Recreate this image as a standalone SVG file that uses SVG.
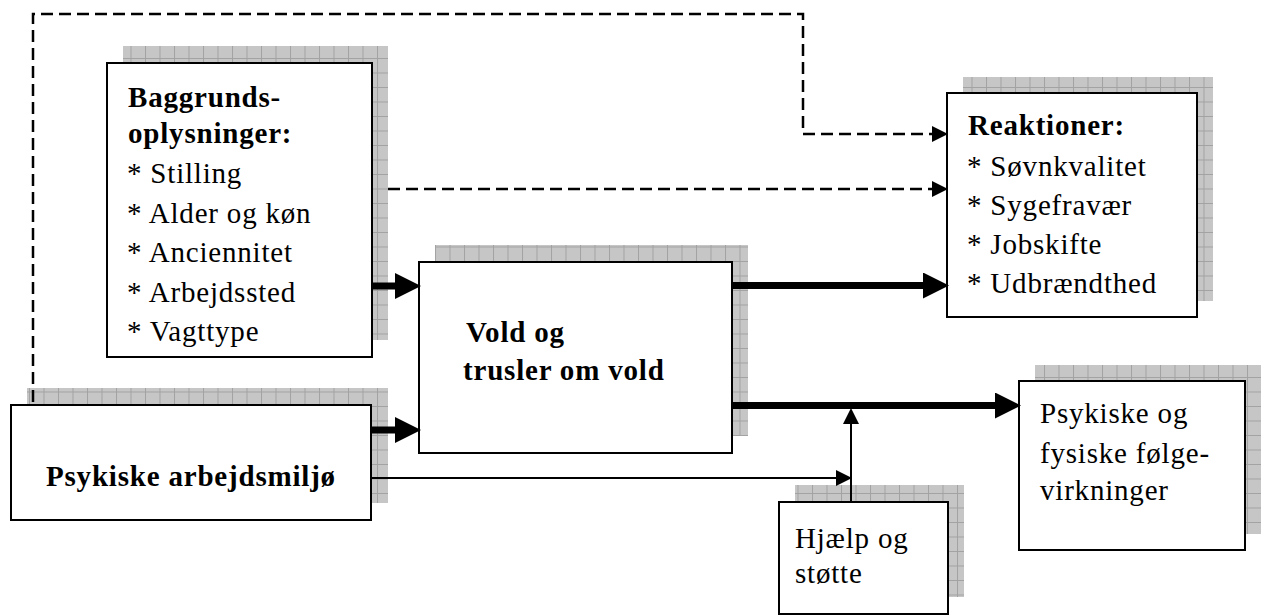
<svg xmlns="http://www.w3.org/2000/svg" width="1275" height="616" viewBox="0 0 1275 616">
  <defs>
    <!-- gray grid texture used for the box shadows -->
    <pattern id="grid" patternUnits="userSpaceOnUse" width="14.5" height="14.5">
      <rect width="14.5" height="14.5" fill="#c6c6c6"/>
      <path d="M0,0.5 H14.5 M0.5,0 V14.5" stroke="#a2a2a2" stroke-width="1" fill="none"/>
    </pattern>
    <marker id="headThick" markerUnits="userSpaceOnUse" markerWidth="26" markerHeight="26" refX="0" refY="12" orient="auto" viewBox="0 0 24 24">
      <path d="M0,0 L24,12 L0,24 Z" fill="#000"/>
    </marker>
    <marker id="headThin" markerUnits="userSpaceOnUse" markerWidth="16" markerHeight="16" refX="0" refY="7.5" orient="auto" viewBox="0 0 15 15">
      <path d="M0,0 L15,7.5 L0,15 Z" fill="#000"/>
    </marker>
  </defs>
  <style>
    .shadow { fill: url(#grid); }
    .box { fill: #fff; stroke: #000; stroke-width: 2; }
    .t { font-family: "Liberation Serif", "Times New Roman", serif; font-size: 29px; letter-spacing: 0.8px; fill: #000; }
    .b { font-weight: bold; }
    .thick { stroke: #000; stroke-width: 7; fill: none; marker-end: url(#headThick); }
    .thin { stroke: #000; stroke-width: 2; fill: none; marker-end: url(#headThin); }
    .dash { stroke: #000; stroke-width: 2.5; fill: none; stroke-dasharray: 12 6; marker-end: url(#headThin); }
  </style>

  <rect width="1275" height="616" fill="#fff"/>

  <g id="baggrund">
    <rect class="shadow" x="123" y="46" width="265" height="294"/>
    <rect class="box" x="107" y="63" width="265" height="294"/>
    <text class="t b" x="128" y="107">Baggrunds-</text>
    <text class="t b" x="128" y="143">oplysninger:</text>
    <text class="t" x="127" y="183">* Stilling</text>
    <text class="t" x="127" y="223">* Alder og køn</text>
    <text class="t" x="127" y="262">* Anciennitet</text>
    <text class="t" x="127" y="302">* Arbejdssted</text>
    <text class="t" x="127" y="341">* Vagttype</text>
  </g>

  <g id="vold">
    <rect class="shadow" x="435" y="245" width="313" height="191"/>
    <rect class="box" x="419" y="262" width="313" height="191"/>
    <text class="t b" x="466" y="342">Vold og</text>
    <text class="t b" x="463" y="380">trusler om vold</text>
  </g>

  <g id="reaktioner">
    <rect class="shadow" x="963" y="77" width="250" height="224"/>
    <rect class="box" x="947" y="93" width="250" height="224"/>
    <text class="t b" x="968" y="135">Reaktioner:</text>
    <text class="t" x="967" y="176">* Søvnkvalitet</text>
    <text class="t" x="967" y="215">* Sygefravær</text>
    <text class="t" x="967" y="254">* Jobskifte</text>
    <text class="t" x="967" y="293">* Udbrændthed</text>
  </g>

  <g id="arbejdsmiljo">
    <rect class="shadow" x="27" y="388" width="361" height="115"/>
    <rect class="box" x="11" y="405" width="360" height="115"/>
    <text class="t b" x="46" y="486">Psykiske arbejdsmiljø</text>
  </g>

  <g id="foelgevirkninger">
    <rect class="shadow" x="1035" y="365" width="226" height="169"/>
    <rect class="box" x="1019" y="381" width="226" height="169"/>
    <text class="t" x="1040" y="423">Psykiske og</text>
    <text class="t" x="1040" y="463">fysiske følge-</text>
    <text class="t" x="1040" y="500">virkninger</text>
  </g>

  <g id="hjaelp">
    <rect class="shadow" x="795" y="485" width="169" height="112"/>
    <rect class="box" x="779" y="502" width="169" height="112"/>
    <text class="t" x="795" y="548">Hjælp og</text>
    <text class="t" x="795" y="583">støtte</text>
  </g>

  <!-- connectors, drawn over the box shadows -->
  <g id="connectors">
    <path class="dash" d="M33,402 V14 H803 V134 H932"/>
    <path class="dash" d="M388,189 H932"/>
    <path class="thick" d="M373,286 H395"/>
    <path class="thick" d="M733,285.5 H923"/>
    <path class="thick" d="M372,430 H395"/>
    <path class="thick" d="M733,405.5 H995"/>
    <path class="thin" d="M372,478 H836"/>
    <path class="thin" d="M851,501 V424"/>
  </g>
</svg>
